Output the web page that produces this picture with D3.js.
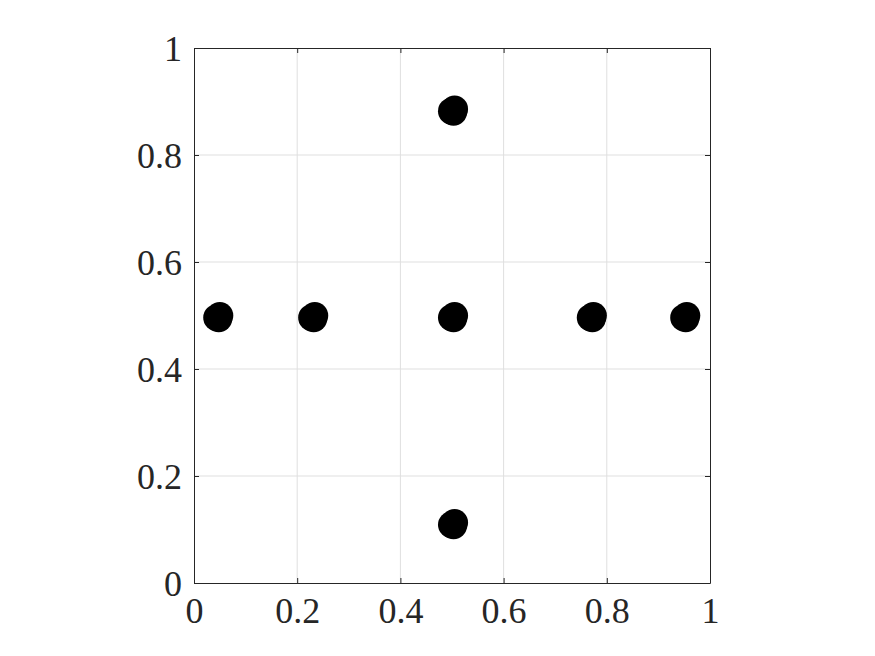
<!DOCTYPE html>
<html>
<head>
<meta charset="utf-8">
<script src="https://cdn.jsdelivr.net/npm/d3@7"></script>
<style>
html,body{margin:0;padding:0;background:#fff;}
svg{display:block;}
</style>
</head>
<body>
<svg id="chart" width="875" height="656"></svg>
<script>
// Points (each marker blob is a few nearly coincident points)
const xValues = [0.044, 0.050, 0.048, 0.228, 0.234, 0.232, 0.499, 0.505, 0.503, 0.768, 0.774, 0.772, 0.949, 0.955, 0.953, 0.499, 0.505, 0.503, 0.499, 0.505, 0.503];
const yValues = [0.496, 0.500, 0.494, 0.496, 0.500, 0.494, 0.496, 0.500, 0.494, 0.496, 0.500, 0.494, 0.496, 0.500, 0.494, 0.882, 0.886, 0.880, 0.109, 0.113, 0.107];
const xTicks = [0, 0.2, 0.4, 0.6, 0.8, 1];
const yTicks = [0, 0.2, 0.4, 0.6, 0.8, 1];
const tickLabels = ["0", "0.2", "0.4", "0.6", "0.8", "1"];

const svg = d3.select("#chart");
const L = 194, R = 710, T = 48, B = 583;
const x = d3.scaleLinear().domain([0, 1]).range([L, R]);
const y = d3.scaleLinear().domain([0, 1]).range([B, T]);
const font = "'Liberation Serif', 'DejaVu Serif', serif";
const axisColor = "#262626";

// grid
svg.append("g").selectAll("line.gx").data(xTicks.slice(1, -1)).join("line")
  .attr("x1", d => x(d)).attr("x2", d => x(d)).attr("y1", T).attr("y2", B)
  .attr("stroke", "#dfdfdf").attr("stroke-width", 1);
svg.append("g").selectAll("line.gy").data(yTicks.slice(1, -1)).join("line")
  .attr("y1", d => y(d)).attr("y2", d => y(d)).attr("x1", L).attr("x2", R)
  .attr("stroke", "#dfdfdf").attr("stroke-width", 1);

// points
svg.append("g").selectAll("circle").data(xValues.map((v, i) => [v, yValues[i]])).join("circle")
  .attr("cx", d => x(d[0])).attr("cy", d => y(d[1])).attr("r", 13.5)
  .attr("fill", "#000");

// axes (ticks inward on all sides)
const fmt = (d, i) => tickLabels[i];
const tl = 5;
const gB = svg.append("g").attr("transform", `translate(0,${B})`)
  .call(d3.axisBottom(x).tickValues(xTicks).tickFormat(fmt).tickSizeInner(-tl).tickSizeOuter(0).tickPadding(14));
const gT = svg.append("g").attr("transform", `translate(0,${T})`)
  .call(d3.axisTop(x).tickValues(xTicks).tickFormat("").tickSizeInner(-tl).tickSizeOuter(0));
const gL = svg.append("g").attr("transform", `translate(${L},0)`)
  .call(d3.axisLeft(y).tickValues(yTicks).tickFormat(fmt).tickSizeInner(-tl).tickSizeOuter(0).tickPadding(12));
const gR = svg.append("g").attr("transform", `translate(${R},0)`)
  .call(d3.axisRight(y).tickValues(yTicks).tickFormat("").tickSizeInner(-tl).tickSizeOuter(0));

[gB, gT, gL, gR].forEach(g => {
  g.select(".domain").attr("stroke", axisColor).attr("stroke-width", 1);
  g.selectAll(".tick line").attr("stroke", axisColor).attr("stroke-width", 1);
  g.selectAll(".tick text").attr("fill", axisColor).style("font-family", font).style("font-size", "36px");
});
gB.selectAll(".tick text").attr("dy", "0.71em");
gL.selectAll(".tick text").attr("dy", "0.34em");
</script>
</body>
</html>
